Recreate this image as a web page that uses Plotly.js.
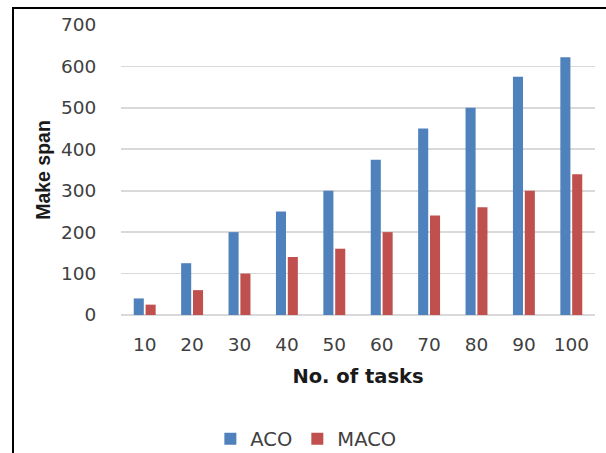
<!DOCTYPE html>
<html>
<head>
<meta charset="utf-8">
<script src="https://cdn.plot.ly/plotly-3.0.1.min.js"></script>
<style>
html,body{margin:0;padding:0;background:#fff;}
#wrap{position:relative;width:606px;height:453px;overflow:hidden;}
#chart{position:absolute;left:0;top:0;width:606px;height:453px;}
#frame{position:absolute;left:12px;top:7px;width:700px;height:600px;border:2px solid #000;pointer-events:none;}
</style>
</head>
<body>
<div id="wrap"><div id="chart"></div><div id="frame"></div></div>
<script>
const categories = ['10','20','30','40','50','60','70','80','90','100'];
const acoValues  = [40,125,200,250,300,375,450,500,575,622];
const macoValues = [25,60,100,140,160,200,240,260,300,340];
const yTicks = [0,100,200,300,400,500,600,700];

const data = [
  {type:'bar', name:'ACO', x:categories, y:acoValues, marker:{color:'#4f81bd'}},
  {type:'bar', name:'MACO', x:categories, y:macoValues, marker:{color:'#c0504d'}}
];
const layout = {
  width:606, height:453,
  margin:{l:121, r:11, t:25, b:138, autoexpand:false},
  paper_bgcolor:'#fff', plot_bgcolor:'#fff',
  font:{family:'DejaVu Sans, sans-serif', size:18.5, color:'#404040'},
  barmode:'group', bargap:0.5, bargroupgap:0.15,
  showlegend:true,
  legend:{orientation:'h', x:0.39, xanchor:'center', y:-0.428, yanchor:'middle', font:{family:'DejaVu Sans, sans-serif', size:19.5, color:'#404040'}, itemwidth:30, tracegroupgap:0},
  xaxis:{type:'category', automargin:false, showgrid:false, showline:false, zeroline:false, ticks:'outside', ticklen:13, tickcolor:'rgba(0,0,0,0)',
         tickfont:{size:18.5, color:'#404040'},
         title:{text:'<b>No. of tasks</b>', font:{family:'DejaVu Sans, sans-serif', size:19.5, color:'#1a1a1a'}, standoff:15}},
  yaxis:{range:[0,700], automargin:false, tickvals:yTicks, showgrid:true, gridcolor:'#d9d9d9', gridwidth:1.8, zeroline:true, zerolinecolor:'#d9d9d9', zerolinewidth:1.8,
         showline:false, ticks:'outside', ticklen:20, tickcolor:'rgba(0,0,0,0)', tickfont:{size:18.5, color:'#404040'},
         title:{text:'<b>Make span</b>', font:{family:'Liberation Sans, Arial, sans-serif', size:19.5, color:'#1a1a1a'}, standoff:5}}
};
Plotly.newPlot('chart', data, layout, {displayModeBar:false, staticPlot:true});
</script>
</body>
</html>
